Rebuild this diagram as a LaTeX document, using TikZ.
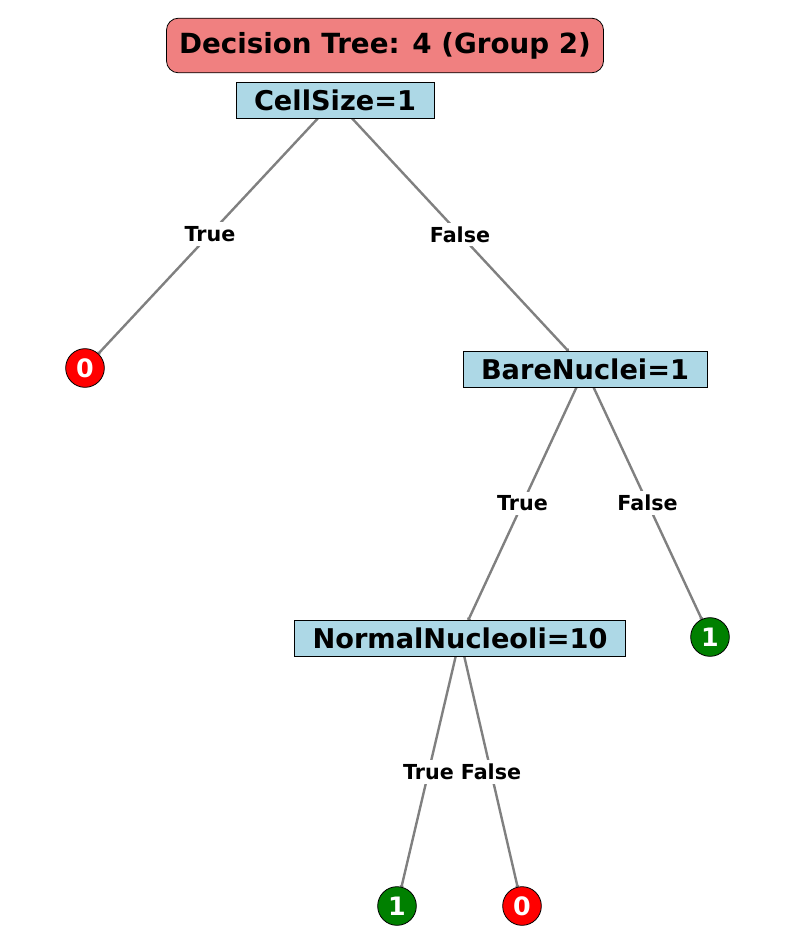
\documentclass[tikz,border=0pt]{standalone}
\usepackage{fontspec}
\setmainfont{DejaVu Sans}
\usetikzlibrary{calc,backgrounds,arrows.meta}
\definecolor{lcoral}{HTML}{F08080}
\definecolor{lblue}{HTML}{ADD8E6}
\definecolor{leafred}{HTML}{FF0000}
\definecolor{leafgreen}{HTML}{008000}
\tikzset{
  titlebox/.style={draw=black, fill=lcoral, rounded corners=9pt, line width=0.6pt,
                   font=\fontsize{20.8}{24}\selectfont\bfseries, inner xsep=9.5pt,
                   inner ysep=1pt, minimum height=41pt},
  splitbox/.style={draw=black, fill=lblue, line width=0.6pt,
                   font=\fontsize{20.4}{24}\selectfont\bfseries, inner xsep=13.5pt,
                   inner ysep=1pt, minimum height=27pt},
  leaf/.style={circle, draw=black, line width=0.6pt, text=white, inner sep=0pt,
               minimum size=29pt, font=\fontsize{19}{22}\selectfont\bfseries},
  noleaf/.style={leaf, fill=leafred},
  yesleaf/.style={leaf, fill=leafgreen},
  elabel/.style={fill=white, inner sep=3pt, font=\fontsize{15.5}{18}\selectfont\bfseries},
  edge/.style={draw=gray, line width=1.8pt, shorten >=-2pt,
               -{Latex[length=3pt,width=3.5pt]}},
}
\begin{document}
\begin{tikzpicture}[x=0.75pt, y=-0.75pt]
  \useasboundingbox (0,0) rectangle (794,944);

  % --- title ---
  \node[titlebox] (title) at (385,45.5) {Decision Tree: 4 (Group 2)};

  % --- split nodes ---
  \node[splitbox] (cell)   at (335,100) {CellSize=1};
  \node[splitbox] (bare)   at (585,369) {BareNuclei=1};
  \node[splitbox] (normal) at (460,638) {NormalNucleoli=10};

  % --- leaves ---
  \node[noleaf]  (leafA) at (85,368)  {0};
  \node[yesleaf] (leafB) at (710,637) {1};
  \node[yesleaf] (leafC) at (397,906) {1};
  \node[noleaf]  (leafD) at (522,906) {0};

  % --- edge labels (midway, center to center) ---
  \node[elabel] (tA) at ($(cell)!.5!(leafA)$)    {True};
  \node[elabel] (fA) at ($(cell)!.5!(bare)$)     {False};
  \node[elabel] (tB) at ($(bare)!.5!(normal)$)   {True};
  \node[elabel] (fB) at ($(bare)!.5!(leafB)$)    {False};
  \node[elabel] (tC) at ($(normal)!.5!(leafC)$)  {True};
  \node[elabel] (fC) at ($(normal)!.5!(leafD)$)  {False};

  % --- edges ---
  \begin{pgfonlayer}{background}
    \draw[edge] (cell.center) -- (leafA);
    \draw[edge] (cell.center) -- (bare);
    \draw[edge] (bare.center) -- (normal);
    \draw[edge] (bare.center) -- (leafB);
    \draw[edge] (normal.center) -- (leafC);
    \draw[edge] (normal.center) -- (leafD);
  \end{pgfonlayer}
\end{tikzpicture}
\end{document}
